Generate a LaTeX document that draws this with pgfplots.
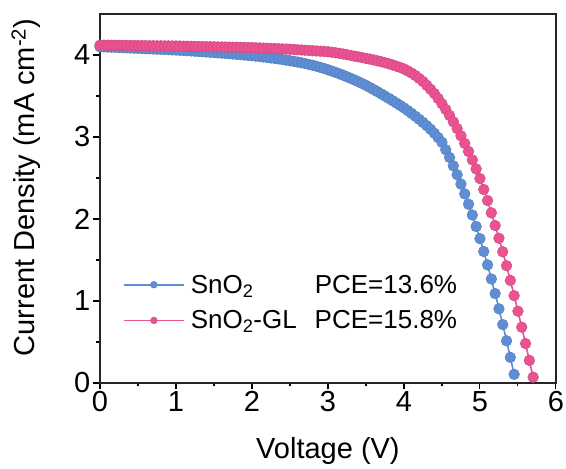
\documentclass[border=0pt]{standalone}
\usepackage{fontspec}
\setmainfont{Liberation Sans}
\usepackage{pgfplots}
\pgfplotsset{compat=1.18}
\definecolor{blueC}{RGB}{95,142,212}
\definecolor{pinkC}{RGB}{234,82,146}
\begin{document}
\begin{tikzpicture}
\begin{axis}[
  name=ax,
  scale only axis, width=456pt, height=369pt,
  xmin=0, xmax=6, ymin=0, ymax=4.5,
  xtick={0,1,2,3,4,5,6}, ytick={0,1,2,3,4},
  minor x tick num=1, minor y tick num=1,
  xtick pos=left, ytick pos=left, tick align=outside,
  major tick length=6.5pt, minor tick length=3.5pt,
  every tick/.style={black, line width=1.1pt},
  axis line style={black!85, line width=1.2pt},
  /pgf/number format/assume math mode=true,
  ticklabel style={font=\fontsize{29}{32}\selectfont},
  xticklabel style={inner sep=2pt},
  yticklabel style={inner sep=3pt},
  xlabel={Voltage (V)},
  ylabel={Current Density (mA cm\textsuperscript{-2})},
  label style={font=\fontsize{29}{32}\selectfont},
  xlabel style={at={(axis description cs:0.5,-0.206)}, anchor=base},
  ylabel style={at={(axis description cs:-0.162,0.53)}, anchor=center},
  legend style={at={(axis cs:0.30,0.98)}, anchor=west, draw=none, fill=none,
    inner sep=0pt, row sep=12pt, font=\fontsize{26}{28}\selectfont,
    nodes={inner ysep=2pt, inner xsep=6pt}},
  legend cell align=left,
  legend image code/.code={\draw[#1, line width=1.8pt, mark size=3.4pt, mark repeat=2, mark phase=2] plot coordinates {(0pt,0pt) (30pt,0pt) (60pt,0pt)};},
]
\addplot[color=blueC, line width=1.6pt, mark=*, mark size=5.4pt, mark options={fill=blueC, draw=blueC!88!black, line width=0.4pt}] coordinates {
(0.00,4.100)(0.05,4.099)(0.10,4.097)(0.15,4.095)(0.20,4.093)(0.25,4.091)(0.30,4.089)(0.35,4.087)(0.40,4.085)(0.45,4.083)
(0.50,4.081)(0.55,4.079)(0.60,4.077)(0.65,4.075)(0.70,4.073)(0.75,4.071)(0.80,4.069)(0.85,4.067)(0.90,4.065)(0.95,4.062)
(1.00,4.060)(1.05,4.057)(1.10,4.055)(1.15,4.052)(1.20,4.049)(1.25,4.046)(1.30,4.043)(1.35,4.040)(1.40,4.037)(1.45,4.033)
(1.50,4.030)(1.55,4.026)(1.60,4.023)(1.65,4.019)(1.70,4.016)(1.75,4.012)(1.80,4.008)(1.85,4.004)(1.90,4.000)(1.95,3.995)
(2.00,3.991)(2.05,3.986)(2.10,3.981)(2.15,3.976)(2.20,3.970)(2.25,3.964)(2.30,3.958)(2.35,3.952)(2.40,3.945)(2.45,3.938)
(2.50,3.930)(2.55,3.922)(2.60,3.914)(2.65,3.905)(2.70,3.895)(2.75,3.885)(2.80,3.874)(2.85,3.862)(2.90,3.849)(2.95,3.835)
(3.00,3.820)(3.05,3.804)(3.10,3.788)(3.15,3.771)(3.20,3.753)(3.25,3.734)(3.30,3.715)(3.35,3.695)(3.40,3.674)(3.45,3.652)
(3.50,3.630)(3.55,3.605)(3.60,3.579)(3.65,3.553)(3.70,3.526)(3.75,3.499)(3.80,3.471)(3.85,3.443)(3.90,3.414)(3.95,3.385)
(4.00,3.355)(4.05,3.322)(4.10,3.288)(4.15,3.253)(4.20,3.216)(4.25,3.178)(4.30,3.138)(4.35,3.094)(4.40,3.046)(4.45,2.993)
(4.50,2.935)(4.55,2.845)(4.60,2.750)(4.65,2.648)(4.70,2.540)(4.75,2.426)(4.80,2.306)(4.85,2.180)(4.90,2.048)(4.95,1.908)
(5.00,1.760)(5.05,1.603)(5.10,1.440)(5.15,1.268)(5.20,1.090)(5.25,0.904)(5.30,0.712)(5.35,0.514)(5.40,0.312)(5.45,0.105)
};
\addlegendentry{\makebox[124pt][l]{SnO\textsubscript{2}}PCE=13.6\%}
\addplot[color=pinkC, line width=1.6pt, mark=*, mark size=5.4pt, mark options={fill=pinkC, draw=pinkC!88!black, line width=0.4pt}] coordinates {
(0.00,4.120)(0.05,4.120)(0.10,4.119)(0.15,4.119)(0.20,4.118)(0.25,4.118)(0.30,4.117)(0.35,4.117)(0.40,4.116)(0.45,4.116)
(0.50,4.115)(0.55,4.114)(0.60,4.114)(0.65,4.113)(0.70,4.113)(0.75,4.112)(0.80,4.112)(0.85,4.111)(0.90,4.111)(0.95,4.110)
(1.00,4.110)(1.05,4.109)(1.10,4.108)(1.15,4.107)(1.20,4.106)(1.25,4.105)(1.30,4.104)(1.35,4.103)(1.40,4.102)(1.45,4.101)
(1.50,4.100)(1.55,4.099)(1.60,4.098)(1.65,4.097)(1.70,4.096)(1.75,4.095)(1.80,4.094)(1.85,4.093)(1.90,4.092)(1.95,4.091)
(2.00,4.090)(2.05,4.088)(2.10,4.086)(2.15,4.084)(2.20,4.082)(2.25,4.080)(2.30,4.078)(2.35,4.076)(2.40,4.074)(2.45,4.072)
(2.50,4.070)(2.55,4.067)(2.60,4.064)(2.65,4.061)(2.70,4.058)(2.75,4.055)(2.80,4.052)(2.85,4.049)(2.90,4.046)(2.95,4.043)
(3.00,4.040)(3.05,4.034)(3.10,4.027)(3.15,4.020)(3.20,4.012)(3.25,4.004)(3.30,3.995)(3.35,3.986)(3.40,3.977)(3.45,3.968)
(3.50,3.959)(3.55,3.950)(3.60,3.940)(3.65,3.929)(3.70,3.918)(3.75,3.906)(3.80,3.893)(3.85,3.879)(3.90,3.864)(3.95,3.848)
(4.00,3.830)(4.05,3.806)(4.10,3.780)(4.15,3.750)(4.20,3.715)(4.25,3.677)(4.30,3.630)(4.35,3.582)(4.40,3.530)(4.45,3.470)
(4.50,3.405)(4.55,3.336)(4.60,3.263)(4.65,3.185)(4.70,3.102)(4.75,3.014)(4.80,2.921)(4.85,2.823)(4.90,2.720)(4.95,2.610)
(5.00,2.493)(5.05,2.360)(5.10,2.225)(5.15,2.075)(5.20,1.920)(5.25,1.765)(5.30,1.600)(5.35,1.430)(5.40,1.250)(5.45,1.065)
(5.50,0.875)(5.55,0.680)(5.60,0.480)(5.65,0.275)(5.70,0.070)
};
\addlegendentry{\makebox[124pt][l]{SnO\textsubscript{2}-GL}PCE=15.8\%}
\end{axis}
\path (ax.south west) ++(-100pt,-84pt);
\path (ax.north east) ++(10pt,14pt);
\end{tikzpicture}
\end{document}
